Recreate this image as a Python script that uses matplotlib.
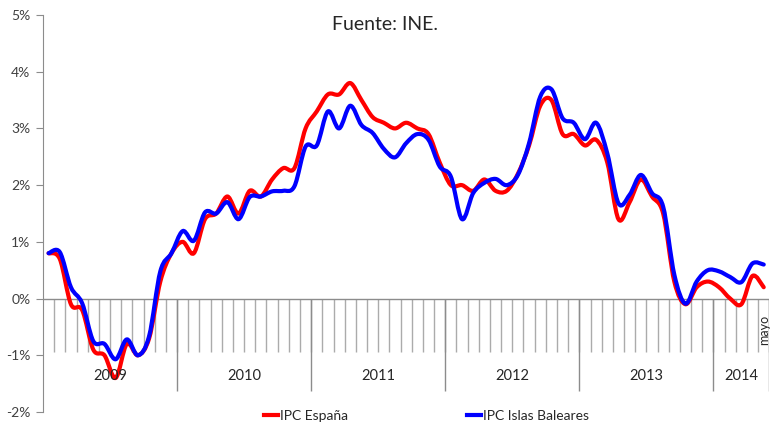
import numpy as np
import matplotlib
matplotlib.use('Agg')
import matplotlib.pyplot as plt
from matplotlib.path import Path
from matplotlib.patches import PathPatch
from matplotlib.lines import Line2D

plt.rcParams['font.family'] = ['Lato', 'DejaVu Sans']

# monthly CPI, year-on-year change (%), Jan 2009 - May 2014
years = ['2009', '2010', '2011', '2012', '2013', '2014']
months_per_year = [12, 12, 12, 12, 12, 5]
last_label = 'mayo'

ipc_espana = [0.8, 0.7, -0.1, -0.2, -0.9, -1.0, -1.4, -0.8, -1.0, -0.7, 0.3, 0.8,
              1.0, 0.8, 1.4, 1.5, 1.8, 1.5, 1.9, 1.8, 2.1, 2.3, 2.3, 3.0,
              3.3, 3.6, 3.6, 3.8, 3.5, 3.2, 3.1, 3.0, 3.1, 3.0, 2.9, 2.4,
              2.0, 2.0, 1.9, 2.1, 1.9, 1.9, 2.2, 2.7, 3.4, 3.5, 2.9, 2.9,
              2.7, 2.8, 2.4, 1.4, 1.7, 2.1, 1.8, 1.5, 0.3, -0.1, 0.2, 0.3,
              0.2, 0.0, -0.1, 0.4, 0.2]

ipc_baleares = [0.8, 0.82, 0.2, -0.08, -0.75, -0.8, -1.07, -0.72, -1.0, -0.66, 0.48, 0.8,
                1.19, 1.02, 1.52, 1.5, 1.7, 1.4, 1.79, 1.8, 1.89, 1.9, 1.98, 2.68,
                2.7, 3.3, 3.0, 3.4, 3.06, 2.92, 2.64, 2.49, 2.74, 2.9, 2.8, 2.33,
                2.15, 1.4, 1.86, 2.04, 2.11, 2.0, 2.18, 2.74, 3.56, 3.69, 3.18, 3.1,
                2.81, 3.1, 2.56, 1.68, 1.83, 2.18, 1.86, 1.62, 0.42, -0.09, 0.3, 0.5,
                0.48, 0.38, 0.29, 0.62, 0.6]

'''smoothed line like the spreadsheet one: cubic bezier through every point'''
def smooth_path(y):
    pts = np.column_stack([np.arange(len(y)), np.asarray(y, dtype=float)])
    n = len(pts)
    verts = [pts[0]]
    codes = [Path.MOVETO]
    for i in range(n - 1):
        p0 = pts[max(i - 1, 0)]
        p1 = pts[i]
        p2 = pts[i + 1]
        p3 = pts[min(i + 2, n - 1)]
        verts += [p1 + (p2 - p0) / 6.0, p2 - (p3 - p1) / 6.0, p2]
        codes += [Path.CURVE4] * 3
    return Path(verts, codes)


fig = plt.figure(figsize=(7.71, 4.23), dpi=100)
ax = fig.add_axes([43 / 771, 11 / 423, 726.3 / 771, 397 / 423])

n = len(ipc_espana)
ax.set_xlim(-0.5, n - 0.5)
ax.set_ylim(-2, 5)

for series, color in [(ipc_espana, '#ff0000'), (ipc_baleares, '#0000ff')]:
    ax.add_patch(PathPatch(smooth_path(series), facecolor='none', edgecolor=color,
                           lw=3, joinstyle='round', capstyle='round', zorder=3))

# category axis at 0 with month ticks hanging down
gray = '#8c8c8c'
ax.axhline(0, color=gray, lw=1, zorder=2)
bounds = np.arange(1, n + 1) - 0.5
ax.vlines(bounds, -0.95, 0, color='#ababab', lw=1, zorder=1)
year_edges = np.cumsum(months_per_year) - 0.5
ax.vlines(year_edges, -1.63, 0, color=gray, lw=1, zorder=1)

start = -0.5
for yr, m in zip(years, months_per_year):
    ax.text(start + m / 2.0, -1.36, yr, ha='center', va='center', fontsize=10.5, color='#262626')
    start += m
ax.text(n - 1, -0.56, last_label, rotation=90, ha='center', va='center', fontsize=9, color='#262626')

ax.set_xticks([])
ax.set_yticks(np.arange(-2, 6, 1))
ax.set_yticklabels(['%d%%' % v for v in range(-2, 6)])
ax.tick_params(axis='y', direction='out', length=5, color=gray, labelsize=10, labelcolor='#404040', pad=4)
for s in ['top', 'right', 'bottom']:
    ax.spines[s].set_visible(False)
ax.spines['left'].set_color(gray)

fig.text(0.4994, 0.941, 'Fuente: INE.', ha='center', va='center', fontsize=14, color='#262626')

handles = [Line2D([], [], color='#ff0000', lw=3), Line2D([], [], color='#0000ff', lw=3)]
fig.legend(handles, ['IPC España', 'IPC Islas Baleares'], loc='center', bbox_to_anchor=(0.553, 0.017),
           ncol=2, frameon=False, fontsize=10, handlelength=1.0, handletextpad=0.15,
           columnspacing=8.6, borderpad=0, labelcolor='#262626')

fig.savefig('out.png', dpi=100)
